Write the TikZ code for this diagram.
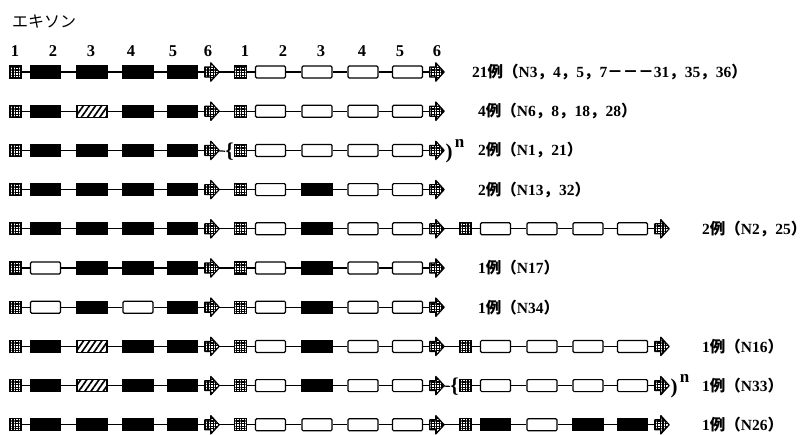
\documentclass[tikz,border=0pt]{standalone}
\usepackage{fontspec}
\setmainfont{Liberation Serif}
\newfontfamily\jpf{Noto Sans CJK JP}
\usetikzlibrary{patterns.meta}
\newcommand{\jp}[1]{{\jpf #1}}
\tikzset{
  exon/.style={draw, line width=1.2pt, inner sep=0pt, minimum height=12pt},
  sqx/.style={exon, minimum width=11.5pt, fill=white,
    postaction={pattern={Hatch[angle=0, distance=2.6pt, line width=1.25pt]}, pattern color=black}},
  bk/.style={exon, minimum width=30pt, fill=black},
  wt/.style={exon, minimum width=30pt, fill=white, rounded corners=1.2pt},
  ht/.style={exon, minimum width=30pt, fill=white,
    postaction={pattern={Lines[angle=55, distance=5pt, line width=1.7pt]}, pattern color=black}},
  arx/.style={inner sep=0pt, minimum width=14pt, minimum height=18pt},
  arrshape/.style={draw, line width=1.2pt, fill=white, line join=round,
    postaction={pattern={Hatch[angle=0, distance=2.6pt, line width=1.25pt]}, pattern color=black}},
  link/.style={line width=1.2pt},
  lab/.style={font=\fontsize{15.5}{18}\selectfont\bfseries, inner sep=0pt, anchor=west},
  num/.style={font=\fontsize{16.5}{18}\selectfont\bfseries, inner sep=0pt},
  brc/.style={font=\fontsize{21}{22}\selectfont\bfseries, inner sep=0pt},
  sup/.style={font=\fontsize{17}{18}\selectfont\bfseries, inner sep=0pt},
}
\newcommand{\gunit}[7]{%
  \node[sqx] (#1e1) at (#2+5.5,#3) {};
  \node[#4] (#1e2) at (#2+35.5,#3) {};
  \node[#5] (#1e3) at (#2+82,#3) {};
  \node[#6] (#1e4) at (#2+128,#3) {};
  \node[#7] (#1e5) at (#2+172.5,#3) {};
  \node[arx] (#1e6) at (#2+202,#3) {};
  \draw[arrshape] ([shift={(0,-5)}]#1e6.west) -- ([shift={(6,-5)}]#1e6.west)
     -- ([shift={(6,0)}]#1e6.north west) -- (#1e6.east)
     -- ([shift={(6,0)}]#1e6.south west) -- ([shift={(6,5)}]#1e6.west)
     -- ([shift={(0,5)}]#1e6.west) -- cycle;
  \draw[link] (#1e1) -- (#1e2);
  \draw[link] (#1e2) -- (#1e3);
  \draw[link] (#1e3) -- (#1e4);
  \draw[link] (#1e4) -- (#1e5);
  \draw[link] (#1e5) -- (#1e6);
}
\begin{document}
\begin{tikzpicture}[x=1pt, y=-1pt]
\useasboundingbox (0,0) rectangle (805,434);
\node[font=\fontsize{16}{18}\selectfont\jpf, inner sep=0pt, anchor=west] (title) at (12,22) {エキソン};
% exon numbers
\foreach \xx/\tt [count=\k] in {15/1,53/2,91/3,131/4,173/5,208/6,245/1,283/2,321/3,362/4,400/5,437/6}
  \node[num] (n\k) at (\xx,51) {\tt};
% row 1
\gunit{a1}{10}{72}{bk}{bk}{bk}{bk}
\gunit{b1}{235}{72}{wt}{wt}{wt}{wt}
\draw[link] (a1e6) -- (b1e1);
\node[lab] (t1) at (472,72) {21\jp{例（}N3\jp{，}4\jp{，}5\jp{，}7\jp{－－－}31\jp{，}35\jp{，}36\jp{）}};
% row 2
\gunit{a2}{10}{111.2}{bk}{ht}{bk}{bk}
\gunit{b2}{235}{111.2}{wt}{wt}{wt}{wt}
\draw[link] (a2e6) -- (b2e1);
\node[lab] (t2) at (478,111.2) {4\jp{例（}N6\jp{，}8\jp{，}18\jp{，}28\jp{）}};
% row 3
\gunit{a3}{10}{150.4}{bk}{bk}{bk}{bk}
\node[brc] (br3) at (229.5,151.5) {\{};
\gunit{b3}{235}{150.4}{wt}{wt}{wt}{wt}
\draw[link] (a3e6) -- (br3);
\node[brc] (cl3) at (449,153) {)};
\node[sup] (sp3) at (459.5,143.5) {n};
\node[lab] (t3) at (478,150.4) {2\jp{例（}N1\jp{，}21\jp{）}};
% row 4
\gunit{a4}{10}{189.6}{bk}{bk}{bk}{bk}
\gunit{b4}{235}{189.6}{wt}{bk}{wt}{wt}
\draw[link] (a4e6) -- (b4e1);
\node[lab] (t4) at (478,189.6) {2\jp{例（}N13\jp{，}32\jp{）}};
% row 5
\gunit{a5}{10}{228.8}{bk}{bk}{bk}{bk}
\gunit{b5}{235}{228.8}{wt}{bk}{wt}{wt}
\gunit{c5}{460}{228.8}{wt}{wt}{wt}{wt}
\draw[link] (a5e6) -- (b5e1);
\draw[link] (b5e6) -- (c5e1);
\node[lab] (t5) at (702,228.8) {2\jp{例（}N2\jp{，}25\jp{）}};
% row 6
\gunit{a6}{10}{268}{wt}{bk}{bk}{bk}
\gunit{b6}{235}{268}{wt}{bk}{wt}{wt}
\draw[link] (a6e6) -- (b6e1);
\node[lab] (t6) at (478,268) {1\jp{例（}N17\jp{）}};
% row 7
\gunit{a7}{10}{307.2}{wt}{bk}{wt}{bk}
\gunit{b7}{235}{307.2}{wt}{bk}{wt}{wt}
\draw[link] (a7e6) -- (b7e1);
\node[lab] (t7) at (478,307.2) {1\jp{例（}N34\jp{）}};
% row 8
\gunit{a8}{10}{346.4}{bk}{ht}{bk}{bk}
\gunit{b8}{235}{346.4}{wt}{bk}{wt}{wt}
\gunit{c8}{460}{346.4}{wt}{wt}{wt}{wt}
\draw[link] (a8e6) -- (b8e1);
\draw[link] (b8e6) -- (c8e1);
\node[lab] (t8) at (702,346.4) {1\jp{例（}N16\jp{）}};
% row 9
\gunit{a9}{10}{385.6}{bk}{ht}{bk}{bk}
\gunit{b9}{235}{385.6}{wt}{bk}{wt}{wt}
\node[brc] (br9) at (454.5,386.7) {\{};
\gunit{c9}{460}{385.6}{wt}{wt}{wt}{wt}
\draw[link] (a9e6) -- (b9e1);
\draw[link] (b9e6) -- (br9);
\node[brc] (cl9) at (674,388) {)};
\node[sup] (sp9) at (684.5,378.5) {n};
\node[lab] (t9) at (702,385.6) {1\jp{例（}N33\jp{）}};
% row 10
\gunit{a10}{10}{424.8}{bk}{bk}{bk}{bk}
\gunit{b10}{235}{424.8}{wt}{wt}{wt}{wt}
\gunit{c10}{460}{424.8}{bk}{wt}{bk}{bk}
\draw[link] (a10e6) -- (b10e1);
\draw[link] (b10e6) -- (c10e1);
\node[lab] (t10) at (702,424.8) {1\jp{例（}N26\jp{）}};
\end{tikzpicture}
\end{document}
